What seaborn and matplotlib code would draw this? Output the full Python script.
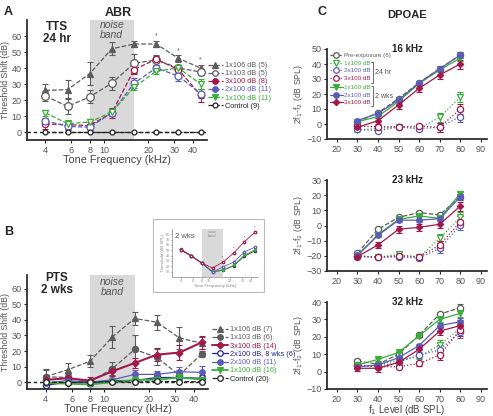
import matplotlib
matplotlib.use("Agg")
import matplotlib.pyplot as plt
from matplotlib.lines import Line2D
from matplotlib.patches import Rectangle
from matplotlib.ticker import FixedLocator, NullLocator
import seaborn as sns

sns.set_theme(style="ticks")
plt.rcParams["font.family"] = ["Liberation Sans", "DejaVu Sans"]

GRAY = "#5c5c5c"
CRIMSON = "#a3184a"
BLUE = "#5b5cb8"
NAVY = "#26268f"
GREEN = "#3aae3a"
BLACK = "#222222"
SHADE = "#d9d9d9"
TXT = "#555555"

# ---- panel A / B : tone frequencies (kHz)
freqs = [4, 5.66, 8, 11.3, 16, 22.6, 32, 45.2]
freq_ticks = [4, 6, 8, 10, 20, 30, 40]

# A: TTS 24 hr threshold shift (dB)
a_106 = [26, 26.5, 36.5, 52, 55, 55, 46, 40]
a_106_err = [4, 6, 7, 4, 2, 2, 2, 2]
a_103 = [22.5, 16, 22, 30.5, 43, 45, 40, 37.5]
a_103_err = [3, 5, 4, 4, 6, 3, 2, 2]
a_3x100 = [5, 4.6, 4, 12, 39, 45.5, 39, 23]
a_3x100_err = [3, 3, 2, 3, 3, 2, 2, 4]
a_2x100 = [7, 3.5, 3, 12, 30.5, 40, 35, 24]
a_2x100_err = [2, 2, 2, 2, 3, 2, 3, 3]
a_1x100 = [12, 5.2, 6.2, 12.5, 28, 38, 40, 30]
a_1x100_err = [2, 2, 2, 2, 2, 2, 2, 3]
a_ctrl = [0, 0, 0, 0, 0, 0, 0, 0]

# B: PTS 2 wks threshold shift (dB)
b_106 = [3.5, 8, 13.5, 29, 41, 38.5, 28.5, 25]
b_106_err = [5, 4, 4, 7, 4, 5, 7, 4]
b_103 = [3.5, 3, 0, 8.7, 21, 16, 4.5, 18]
b_103_err = [4, 3, 2, 4, 9, 5, 3, 2]
b_3x100 = [1.5, 2.5, 1, 7, 12.3, 17.7, 19, 25.5]
b_3x100_err = [3, 3, 2, 3, 3, 4, 5, 4]
b_2x100_8w = [-2, 0, -0.5, 1, 1, 3, 3, 2.5]
b_2x100_8w_err = [2, 1, 1, 1, 1, 1, 3, 2]
b_2x100 = [-0.5, 1, 0, 1.5, 5, 5, 6.7, 6.3]
b_2x100_err = [1, 1, 2, 1, 3, 2, 3, 4]
b_1x100 = [-0.5, -1, -1.5, 0, 1.5, 1.5, 3, 1.7]
b_1x100_err = [1, 1, 1, 1, 1, 1, 1, 1]
b_ctrl = [0, -0.3, 0, 0.3, 0, 0.5, 0.3, 0.2]

# B inset: thresholds (dB SPL) 2 wks
in_base = [52, 40, 26, 10, 13, 21, 39, 49]
in_3x100 = [51, 39, 26, 17, 28, 45, 66, 84]
in_2x100 = [51, 39, 26, 9, 19, 28, 47, 56]
in_1x100 = [51, 39, 26, 9, 13, 22, 41, 51]

# ---- panel C: DPOAE vs f1 level (dB SPL)
levels = [30, 40, 50, 60, 70, 80]
c16_pre = [1.5, 7.5, 17, 27.5, 37, 46]
c16_24_1x = [-4, -3, -1.8, -3, 4.5, 18]
c16_24_2x = [-3.5, -4.5, -2, -3, -2.2, 5]
c16_24_3x = [-1.5, -1.8, -1.8, -1.3, -2.2, 10]
c16_2w_1x = [1.5, 5, 15, 27, 36, 44]
c16_2w_2x = [2.3, 7, 16, 27.5, 36.7, 46]
c16_2w_3x = [-2.2, 2.2, 12.7, 23.8, 32.7, 40]

c23_pre = [-18.3, -2.5, 5.4, 8.5, 7, 19]
c23_24_1x = [-20, -21, -19, -21, -8.4, 5.4]
c23_24_2x = [-20.6, -21, -20.6, -21.5, -15, 0.3]
c23_24_3x = [-20, -21, -20, -20.5, -13, 2.5]
c23_2w_1x = [-20, -6, 4, 6.3, 4.7, 21]
c23_2w_2x = [-19.5, -6.5, 3.5, 3.5, 4.5, 19]
c23_2w_3x = [-20.5, -12.8, -2.5, -1.2, 0.8, 12.8]

c32_pre = [6.1, 4.2, 10, 21, 33, 36.7]
c32_24_1x = [2.8, 3.8, 6.7, 8.6, 15.3, 25]
c32_24_2x = [3.3, 3.1, 5.3, 9.5, 12.4, 23]
c32_24_3x = [3.8, 2.8, 2.8, 4.7, 9.5, 24]
c32_2w_1x = [3.8, 7, 11, 20.6, 30, 33.5]
c32_2w_2x = [2.8, 3.8, 8, 15, 26.4, 28.7]
c32_2w_3x = [1.9, 1.9, 5.3, 12.8, 23.3, 26.4]

c_err_small = [1, 1, 1, 1, 1.5, 2]
c_err_mid = [1.5, 2, 2.5, 2.5, 2.5, 3]
c_err_24 = [1, 1, 1, 1.5, 3, 3.5]

W, H = 493, 416


def box(l, t, r, b):
    return [l / W, 1 - b / H, (r - l) / W, (b - t) / H]


def draw(ax, x, y, err, color, marker, filled, ls, lw=0.9, ms=4, z=3):
    sns.lineplot(x=x, y=y, ax=ax, color=color, linestyle=ls, linewidth=lw,
                 marker=marker, markersize=ms,
                 markerfacecolor=color if filled else "white",
                 markeredgecolor=color, markeredgewidth=0.9,
                 errorbar=None, sort=False, legend=False, zorder=z)
    if err is not None:
        ax.errorbar(x, y, yerr=err, fmt="none", ecolor=color, elinewidth=0.8,
                    capsize=2, capthick=0.8, zorder=z - 0.5)


def handle(color, marker, filled, ls, lw=0.9, ms=4):
    return Line2D([], [], color=color, linestyle=ls, linewidth=lw, marker=marker,
                  markersize=ms, markerfacecolor=color if filled else "white",
                  markeredgecolor=color, markeredgewidth=0.9)


def style_freq_axis(ax, ylim, fs=6.5):
    ax.set_xscale("log")
    ax.set_xlim(3, 50)
    ax.set_ylim(*ylim)
    ax.xaxis.set_major_locator(FixedLocator(freq_ticks))
    ax.xaxis.set_minor_locator(NullLocator())
    ax.set_xticklabels([str(t) for t in freq_ticks])
    ax.set_yticks([0, 10, 20, 30, 40, 50, 60])
    ax.tick_params(labelsize=fs, labelcolor=TXT, length=2.5, width=0.8, pad=1.5)
    ax.axvspan(8, 16, color=SHADE, zorder=0, lw=0)
    ax.axhline(0, color=BLACK, ls=(0, (2.5, 2)), lw=1.0, zorder=1)
    ax.set_xlabel("Tone Frequency (kHz)", fontsize=7.8, color="#444444", labelpad=0.5)
    ax.set_ylabel("Threshold Shift (dB)", fontsize=6.3, color=TXT, labelpad=1)
    ax.patch.set_visible(False)
    sns.despine(ax=ax)


fig = plt.figure(figsize=(W / 100, H / 100), dpi=100)

# ---------------- Panel A
axA = fig.add_axes(box(27, 20, 207, 140))
style_freq_axis(axA, (-5, 70))
draw(axA, freqs, a_106, a_106_err, GRAY, "^", True, "--", ms=4.5)
draw(axA, freqs, a_103, a_103_err, GRAY, "o", False, "--", ms=5.5)
draw(axA, freqs, a_3x100, a_3x100_err, CRIMSON, "o", False, "--", ms=4.5)
draw(axA, freqs, a_2x100, a_2x100_err, BLUE, "o", False, "--", ms=5)
draw(axA, freqs, a_1x100, a_1x100_err, GREEN, "v", False, "--", ms=5)
draw(axA, freqs, a_ctrl, None, BLACK, "o", False, "--", ms=3.5)
for f, v in zip(freqs[5:], a_106[5:]):
    axA.text(f, v + 5, "*", ha="center", va="center", fontsize=5, color=GRAY)
axA.text(11.3, 64, "noise\nband", ha="center", va="center", fontsize=7.5,
         style="italic", color=TXT, linespacing=1.0)

legA = axA.legend(
    [handle(GRAY, "^", True, "--"), handle(GRAY, "o", False, "--"),
     handle(CRIMSON, "o", True, "--"), handle(BLUE, "o", True, "--"),
     handle(GREEN, "v", True, "--"), handle(BLACK, "o", False, "--", ms=3.5)],
    ["1x106 dB (5)", "1x103 dB (5)", "3x100 dB (8)", "2x100 dB (11)",
     "1x100 dB (11)", "Control (9)"],
    loc="upper left", bbox_to_anchor=(208 / W, 1 - 62 / H),
    bbox_transform=fig.transFigure, frameon=False, fontsize=5.3,
    handlelength=2.0, handletextpad=0.3, labelspacing=0.13, borderpad=0,
    borderaxespad=0)
for t, c in zip(legA.get_texts(), [GRAY, GRAY, CRIMSON, BLUE, GREEN, BLACK]):
    t.set_color(c)

# ---------------- Panel B
axB = fig.add_axes(box(27, 275, 208, 389))
style_freq_axis(axB, (-4.4, 68.9))
draw(axB, freqs, b_106, b_106_err, GRAY, "^", True, "--", ms=4.5)
draw(axB, freqs, b_103, b_103_err, GRAY, "o", True, "--", ms=4.5)
draw(axB, freqs, b_3x100, b_3x100_err, CRIMSON, "D", True, "-", lw=1.5, ms=3.5)
draw(axB, freqs, b_2x100_8w, b_2x100_8w_err, NAVY, "o", False, "-", ms=4.5)
draw(axB, freqs, b_2x100, b_2x100_err, BLUE, "o", True, "-", ms=4)
draw(axB, freqs, b_1x100, b_1x100_err, GREEN, "v", True, "-", lw=1.3, ms=4.5)
draw(axB, freqs, b_ctrl, None, BLACK, "o", False, "--", ms=4)
axB.text(11.3, 61, "noise\nband", ha="center", va="center", fontsize=7.5,
         style="italic", color=TXT, linespacing=1.0)

legB = axB.legend(
    [handle(GRAY, "^", True, "--"), handle(GRAY, "o", True, "--"),
     handle(CRIMSON, "D", True, "-", lw=1.4, ms=3.5), handle(NAVY, "o", False, "-"),
     handle(BLUE, "o", True, "-"), handle(GREEN, "v", True, "-", lw=1.3),
     handle(BLACK, "o", False, "--")],
    ["1x106 dB (7)", "1x103 dB (6)", "3x100 dB (14)", "2x100 dB, 8 wks (6)",
     "2x100 dB (11)", "1x100 dB (16)", "Control (20)"],
    loc="upper left", bbox_to_anchor=(212 / W, 1 - 326 / H),
    bbox_transform=fig.transFigure, frameon=False, fontsize=5.3,
    handlelength=2.2, handletextpad=0.3, labelspacing=0.15, borderpad=0,
    borderaxespad=0)
for t, c in zip(legB.get_texts(), [GRAY, GRAY, CRIMSON, NAVY, BLUE, GREEN, BLACK]):
    t.set_color(c)

# ---------------- Inset in B
fig.patches.append(Rectangle((153 / W, 1 - 292 / H), 111 / W, 73 / H,
                             transform=fig.transFigure, facecolor="white",
                             edgecolor="#bbbbbb", lw=0.8, zorder=1))
axI = fig.add_axes(box(172, 229, 258, 277), zorder=2)
axI.set_xscale("log")
axI.set_xlim(3, 50)
axI.set_ylim(0, 90)
axI.axvspan(8, 16, color=SHADE, zorder=0, lw=0)
draw(axI, freqs, in_base, None, "#333333", "o", True, "-", lw=0.6, ms=1.6)
draw(axI, freqs, in_1x100, None, GREEN, "v", False, "-", lw=0.6, ms=1.8)
draw(axI, freqs, in_2x100, None, BLUE, "o", False, "-", lw=0.6, ms=1.8)
draw(axI, freqs, in_3x100, None, CRIMSON, "o", False, "-", lw=0.6, ms=1.8)
for f, v in zip(freqs[4:], in_3x100[4:]):
    axI.text(f, v + 8, "*", ha="center", va="center", fontsize=3, color=CRIMSON)
axI.xaxis.set_major_locator(FixedLocator(freq_ticks))
axI.xaxis.set_minor_locator(NullLocator())
axI.set_xticklabels([str(t) for t in freq_ticks])
axI.set_yticks([10, 20, 30, 40, 50, 60, 70, 80])
axI.tick_params(labelsize=2.5, labelcolor="#888888", length=1, width=0.4, pad=0.5)
axI.set_xlabel("Tone Frequency (kHz)", fontsize=3.2, color="#888888", labelpad=0.5)
axI.set_ylabel("Threshold (dB SPL)", fontsize=3.2, color="#888888", labelpad=0.5)
axI.text(11.3, 80, "noise\nband", ha="center", va="center", fontsize=2.8,
         style="italic", color="#888888", linespacing=1.0)
axI.text(0.04, 0.92, "2 wks", transform=axI.transAxes, fontsize=5.5, color=TXT,
         va="top")
for s in axI.spines.values():
    s.set_linewidth(0.5)
    s.set_color("#888888")
sns.despine(ax=axI)
axI.patch.set_visible(False)

# ---------------- Panel C
panelsC = [
    ("16 kHz", box(327, 49, 487, 139), (-10, 50),
     c16_pre, c16_24_1x, c16_24_2x, c16_24_3x, c16_2w_1x, c16_2w_2x, c16_2w_3x),
    ("23 kHz", box(327, 180, 487, 271), (-30, 30),
     c23_pre, c23_24_1x, c23_24_2x, c23_24_3x, c23_2w_1x, c23_2w_2x, c23_2w_3x),
    ("32 kHz", box(327, 302, 487, 389), (-10, 40),
     c32_pre, c32_24_1x, c32_24_2x, c32_24_3x, c32_2w_1x, c32_2w_2x, c32_2w_3x),
]
axesC = []
for title, pos, ylim, pre, h1, h2, h3, w1, w2, w3 in panelsC:
    ax = fig.add_axes(pos)
    draw(ax, levels, pre, c_err_small, GRAY, "o", False, "--", ms=4.5)
    draw(ax, levels, h1, c_err_24, GREEN, "v", False, ":", ms=4.5)
    draw(ax, levels, h2, c_err_24, BLUE, "o", False, ":", ms=4.5)
    draw(ax, levels, h3, c_err_24, CRIMSON, "o", False, ":", ms=4.5)
    draw(ax, levels, w1, c_err_small, GREEN, "v", True, "-", ms=4)
    draw(ax, levels, w2, c_err_small, BLUE, "o", True, "-", ms=4)
    draw(ax, levels, w3, c_err_mid, CRIMSON, "D", True, "-", ms=3.2)
    ax.set_xlim(15.2, 93)
    ax.set_ylim(*ylim)
    ax.set_xticks([20, 30, 40, 50, 60, 70, 80, 90])
    ax.set_yticks(list(range(ylim[0], ylim[1] + 1, 10)))
    ax.tick_params(labelsize=6.5, labelcolor=TXT, length=2.5, width=0.8, pad=1.5)
    ax.set_ylabel("2f$_1$-f$_2$ (dB SPL)", fontsize=6.2, color=TXT, labelpad=1)
    ax.text(0.5, 1.0, title, transform=ax.transAxes, ha="center", va="center",
            fontsize=7, fontweight="bold", color=BLACK)
    ax.patch.set_visible(False)
    sns.despine(ax=ax)
    axesC.append(ax)
axesC[-1].set_xlabel("f$_1$ Level (dB SPL)", fontsize=7, color="#444444",
                     labelpad=-0.5)

leg_kw = dict(loc="upper left", bbox_transform=fig.transFigure, frameon=False,
              fontsize=4.5, handlelength=2.0, handletextpad=0.3,
              labelspacing=0.38, borderpad=0, borderaxespad=0, handleheight=0.6)
legC1 = axesC[0].legend(
    [handle(GRAY, "o", False, "--"), handle(GREEN, "v", False, ":"),
     handle(BLUE, "o", False, ":"), handle(CRIMSON, "o", False, ":")],
    ["Pre-exposure (6)", "1x100 dB", "2x100 dB", "3x100 dB"],
    bbox_to_anchor=(330 / W, 1 - 53 / H), **leg_kw)
for t, c in zip(legC1.get_texts(), [GRAY, GREEN, BLUE, CRIMSON]):
    t.set_color(c)
axesC[0].add_artist(legC1)
legC2 = axesC[0].legend(
    [handle(GREEN, "v", True, "-"), handle(BLUE, "o", True, "-"),
     handle(CRIMSON, "D", True, "-", ms=3.2)],
    ["1x100 dB", "2x100 dB", "3x100 dB"],
    bbox_to_anchor=(330 / W, 1 - 85 / H), **leg_kw)
for t, c in zip(legC2.get_texts(), [GREEN, BLUE, CRIMSON]):
    t.set_color(c)

# brackets for 24 hr / 2 wks groups
for y0, y1, lab in [(62, 83, "24 hr"), (86, 106, "2 wks")]:
    xs = [371 / W, 373 / W, 373 / W, 371 / W]
    ys = [1 - y0 / H, 1 - y0 / H, 1 - y1 / H, 1 - y1 / H]
    fig.add_artist(Line2D(xs, ys, color=TXT, lw=0.6, transform=fig.transFigure))
    fig.text(375 / W, 1 - (y0 + y1) / 2 / H, lab, fontsize=5, color=TXT,
             va="center", ha="left")

# ---------------- panel labels and titles
fig.text(4 / W, 1 - 12 / H, "A", fontsize=9, fontweight="bold", va="center")
fig.text(4 / W, 1 - 232 / H, "B", fontsize=9, fontweight="bold", va="center")
fig.text(318 / W, 1 - 12 / H, "C", fontsize=9, fontweight="bold", va="center")
fig.text(118 / W, 1 - 13 / H, "ABR", fontsize=9, fontweight="bold",
         ha="center", va="center")
fig.text(407 / W, 1 - 15 / H, "DPOAE", fontsize=8, fontweight="bold",
         ha="center", va="center")
fig.text(57 / W, 1 - 33 / H, "TTS\n24 hr", fontsize=8.5, fontweight="bold",
         ha="center", va="center", linespacing=1.1)
fig.text(57 / W, 1 - 284 / H, "PTS\n2 wks", fontsize=8.5, fontweight="bold",
         ha="center", va="center", linespacing=1.1)

fig.savefig("out.png", dpi=100)
